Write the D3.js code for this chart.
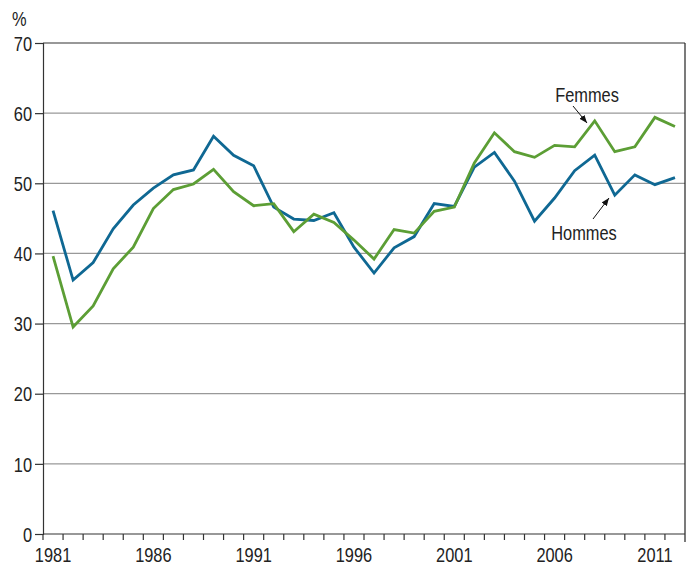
<!DOCTYPE html>
<html>
<head>
<meta charset="utf-8">
<script src="https://cdn.jsdelivr.net/npm/d3@7"></script>
<style>
  body { margin: 0; background: #fff; }
  text { font-family: "Liberation Sans", Arial, sans-serif; fill: #222; }
</style>
</head>
<body>
<svg width="693" height="565"></svg>
<script>
const years = d3.range(1981, 2013);
const hommes = [46.1, 36.2, 38.7, 43.5, 46.9, 49.3, 51.2, 51.9, 56.7, 54.0, 52.5, 46.6,
  44.9, 44.7, 45.8, 40.9, 37.2, 40.8, 42.4, 47.1, 46.7, 52.3, 54.4, 50.3, 44.6, 47.9,
  51.8, 54.0, 48.3, 51.2, 49.8, 50.8];
const femmes = [39.6, 29.5, 32.5, 37.8, 40.9, 46.4, 49.1, 49.9, 52.0, 48.8, 46.8, 47.1,
  43.1, 45.6, 44.4, 41.9, 39.2, 43.4, 42.9, 46.0, 46.6, 52.9, 57.2, 54.5, 53.7, 55.4,
  55.2, 58.9, 54.5, 55.2, 59.4, 58.1];
const yTicks = [0, 10, 20, 30, 40, 50, 60, 70];
const xLabels = [1981, 1986, 1991, 1996, 2001, 2006, 2011];

const margin = { left: 43, right: 8, top: 43, bottom: 31 };
const svg = d3.select('svg');
const width = +svg.attr('width');
const height = +svg.attr('height');
const innerWidth = width - margin.left - margin.right;
const innerHeight = height - margin.top - margin.bottom;

// condensed look: squeeze Liberation Sans horizontally (Arial Narrow ~ 82%)
const narrow = (sel, x, y) => sel.attr('x', 0).attr('y', 0)
  .attr('transform', (d, i) => `translate(${typeof x === 'function' ? x(d, i) : x},${y}) scale(0.82,1)`);

const g = svg.append('g').attr('transform', `translate(${margin.left},${margin.top})`);

const xScale = d3.scaleBand().domain(years).range([0, innerWidth]);
const yScale = d3.scaleLinear().domain([0, 70]).range([innerHeight, 0]);
const cx = d => xScale(d) + xScale.bandwidth() / 2;

// gridlines
g.selectAll('.grid').data(yTicks.filter(t => t > 0 && t < 70)).enter()
  .append('line')
  .attr('x1', 0).attr('x2', innerWidth)
  .attr('y1', d => yScale(d)).attr('y2', d => yScale(d))
  .attr('stroke', '#999').attr('stroke-width', 1.2);

// frame top + right
g.append('line').attr('x1', 0).attr('x2', innerWidth).attr('y1', 0).attr('y2', 0)
  .attr('stroke', '#333').attr('stroke-width', 1.2);
g.append('line').attr('x1', innerWidth).attr('x2', innerWidth).attr('y1', 0).attr('y2', innerHeight + 8)
  .attr('stroke', '#222').attr('stroke-width', 1.2);

// y axis
const yAxis = d3.axisLeft(yScale).tickValues(yTicks).tickSize(8);
const yg = g.append('g').call(yAxis);
yg.select('.domain').attr('stroke', '#333').attr('stroke-width', 1.2);
yg.selectAll('.tick line').attr('stroke', '#333').attr('stroke-width', 1.2);
yg.selectAll('text').attr('font-size', 20).attr('dy', '0.36em')
  .style('font-family', '"Liberation Sans", Arial, sans-serif').attr('fill', '#222')
  .call(narrow, -11, 0);

// x axis: ticks at band boundaries
const xg = g.append('g').attr('transform', `translate(0,${innerHeight})`);
xg.append('line').attr('x1', 0).attr('x2', innerWidth).attr('stroke', '#333').attr('stroke-width', 1.2);
xg.selectAll('.xt').data(years).enter().append('line')
  .attr('x1', d => xScale(d)).attr('x2', d => xScale(d))
  .attr('y1', 0).attr('y2', 6)
  .attr('stroke', '#333').attr('stroke-width', 1.2);
xg.selectAll('.xl').data(xLabels).enter().append('text')
  .attr('text-anchor', 'middle').attr('font-size', 20)
  .text(d => d)
  .call(narrow, d => cx(d), 27.5);

svg.append('text').attr('font-size', 20).text('%').call(narrow, 12, 26);

// lines
const line = d3.line().x((d, i) => cx(years[i])).y(d => yScale(d));
g.append('path').datum(hommes).attr('d', line)
  .attr('fill', 'none').attr('stroke', '#0f6893').attr('stroke-width', 2.8).attr('stroke-linejoin', 'miter');
g.append('path').datum(femmes).attr('d', line)
  .attr('fill', 'none').attr('stroke', '#5c9e35').attr('stroke-width', 2.8).attr('stroke-linejoin', 'miter');

// annotations
svg.append('defs').append('marker')
  .attr('id', 'arr').attr('viewBox', '0 0 10 10').attr('refX', 10).attr('refY', 5)
  .attr('markerWidth', 8).attr('markerHeight', 8).attr('orient', 'auto')
  .append('path').attr('d', 'M0,1 L10,5 L0,9 z').attr('fill', '#111');

svg.append('text').attr('text-anchor', 'middle').attr('font-size', 20).text('Femmes').call(narrow, 587, 102);
svg.append('line').attr('x1', 573).attr('y1', 106).attr('x2', 587).attr('y2', 123)
  .attr('stroke', '#111').attr('stroke-width', 1).attr('marker-end', 'url(#arr)');

svg.append('text').attr('text-anchor', 'middle').attr('font-size', 20).text('Hommes').call(narrow, 584, 240);
svg.append('line').attr('x1', 593).attr('y1', 219).attr('x2', 609).attr('y2', 198)
  .attr('stroke', '#111').attr('stroke-width', 1).attr('marker-end', 'url(#arr)');
</script>
</body>
</html>
